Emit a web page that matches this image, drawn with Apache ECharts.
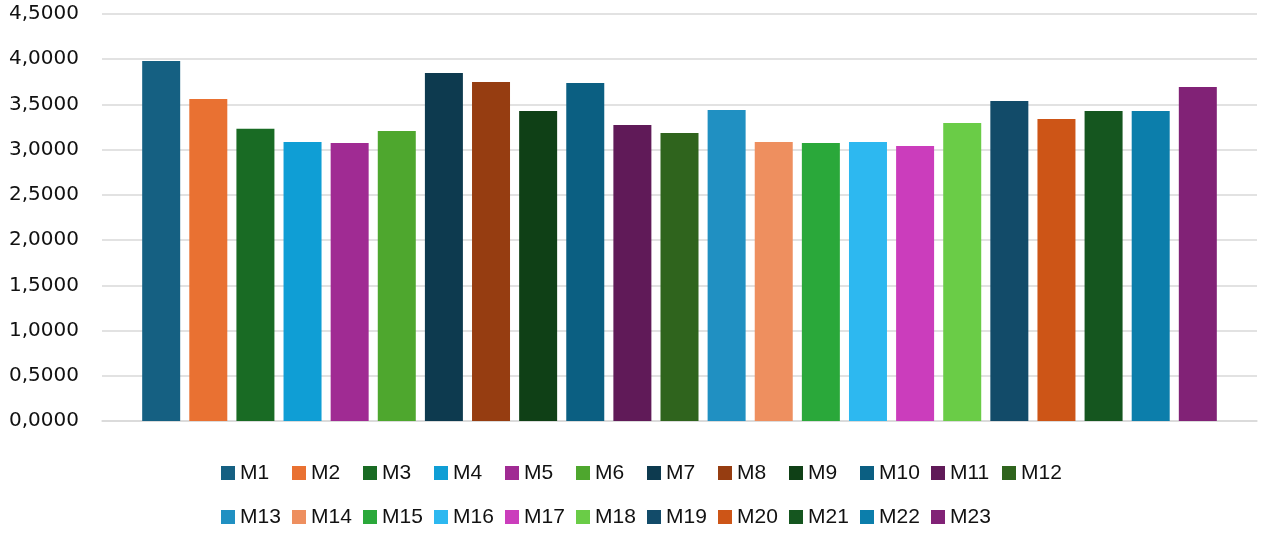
<!DOCTYPE html>
<html>
<head>
<meta charset="utf-8">
<script src="https://cdn.jsdelivr.net/npm/echarts@6/dist/echarts.min.js"></script>
<style>
html,body{margin:0;padding:0;background:#fff;}
#chart{width:1269px;height:538px;}
</style>
</head>
<body>
<div id="chart"></div>
<script>
const seriesNames = ['M1','M2','M3','M4','M5','M6','M7','M8','M9','M10','M11','M12','M13','M14','M15','M16','M17','M18','M19','M20','M21','M22','M23'];
const seriesValues = [3.980,3.560,3.230,3.085,3.074,3.207,3.848,3.748,3.428,3.737,3.273,3.184,3.439,3.085,3.074,3.085,3.041,3.295,3.538,3.339,3.428,3.428,3.693];
const seriesColors = ['#156082','#E97132','#196B24','#0F9ED5','#A02B93','#4EA72E','#0D3A4F','#963D11','#0F4016','#0B5F82','#601A58','#2F641D','#2090C2','#EE8F5F','#2AA83A','#2DB8F0','#CB3DBC','#6ACC47','#124B69','#CD5517','#15561F','#0C7EAB','#812276'];
const categories = [''];

const chart = echarts.init(document.getElementById('chart'));
const legendCommon = {
  left: 221,
  padding: 0,
  orient: 'horizontal',
  icon: 'rect',
  itemWidth: 14,
  itemHeight: 14,
  itemGap: 5,
  textStyle: {fontFamily: 'Liberation Sans', fontSize: 21, color: '#111', width: 47, lineHeight: 24}
};
chart.setOption({
  animation: false,
  backgroundColor: '#fff',
  grid: {left: 102, right: 12, top: 14, bottom: 117, containLabel: false},
  legend: [
    Object.assign({}, legendCommon, {top: 461, data: seriesNames.slice(0, 12)}),
    Object.assign({}, legendCommon, {top: 505, data: seriesNames.slice(12)})
  ],
  xAxis: {
    type: 'category',
    data: categories,
    axisLine: {show: true, lineStyle: {color: '#d9d9d9', width: 1.5}},
    axisTick: {show: false},
    axisLabel: {show: false}
  },
  yAxis: {
    type: 'value',
    min: 0, max: 4.5, interval: 0.5,
    axisLine: {show: false},
    axisTick: {show: false},
    splitLine: {lineStyle: {color: '#d9d9d9', width: 1.5}},
    axisLabel: {
      margin: 23,
      fontFamily: 'DejaVu Sans', fontSize: 20, color: '#111',
      padding: [3, 0, 0, 0],
      formatter: v => v.toFixed(4).replace('.', ',')
    }
  },
  series: seriesNames.map((n, i) => ({
    name: n,
    type: 'bar',
    data: [seriesValues[i]],
    barWidth: 38,
    barGap: '24%',
    itemStyle: {color: seriesColors[i]}
  }))
});
</script>
</body>
</html>
